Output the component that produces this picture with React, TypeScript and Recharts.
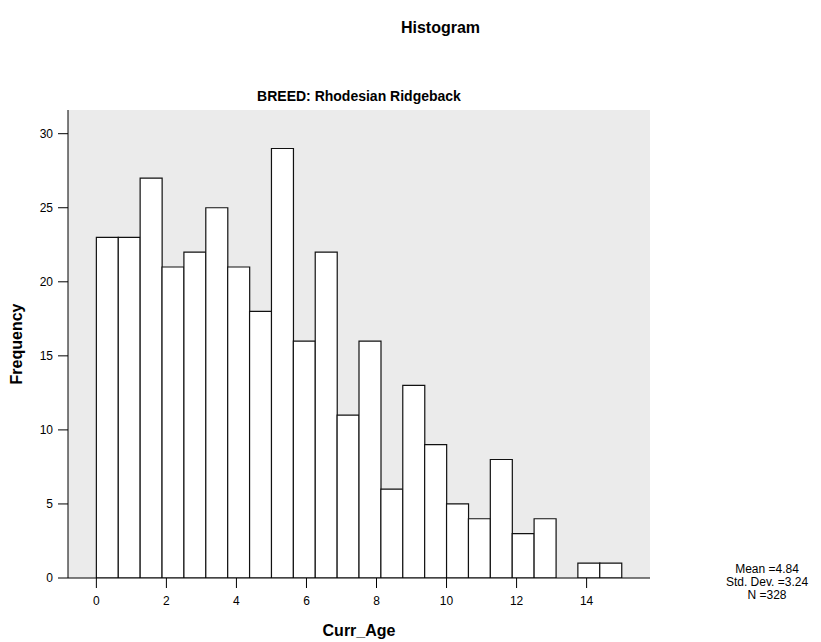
import React from 'react';
import { ComposedChart, Bar, XAxis, YAxis, CartesianGrid } from 'recharts';

// ── Data ──────────────────────────────────────────────────────────────────────

const binWidth = 0.625;
const binStarts = [
  0, 0.625, 1.25, 1.875, 2.5, 3.125, 3.75, 4.375, 5, 5.625, 6.25, 6.875,
  7.5, 8.125, 8.75, 9.375, 10, 10.625, 11.25, 11.875, 12.5, 13.125, 13.75, 14.375,
];
const frequencies = [
  23, 23, 27, 21, 22, 25, 21, 18, 29, 16, 22, 11,
  16, 6, 13, 9, 5, 4, 8, 3, 4, 0, 1, 1,
];
const xTicks = [0, 2, 4, 6, 8, 10, 12, 14];
const yTicks = [0, 5, 10, 15, 20, 25, 30];
const statsLines = ['Mean =4.84', 'Std. Dev. =3.24', 'N =328'];

const chartData = binStarts.map((start, i) => ({
  mid: start + binWidth / 2,
  count: frequencies[i],
}));

const FONT = '"Liberation Sans", Arial, Helvetica, sans-serif';

export default function App() {
  return (
    <div style={{ position: 'absolute', left: 0, top: 0, width: 821, height: 642, background: '#fff', fontFamily: FONT }}>
      <div style={{ position: 'absolute', left: 0, width: 821, top: 19, textAlign: 'center', paddingLeft: 60, boxSizing: 'border-box', fontSize: 16, fontWeight: 700, color: '#000' }}>
        Histogram
      </div>
      <div style={{ position: 'absolute', left: 68, width: 582, top: 88, textAlign: 'center', fontSize: 14, fontWeight: 700, color: '#000' }}>
        BREED: Rhodesian Ridgeback
      </div>

      <ComposedChart
        width={821}
        height={642}
        data={chartData}
        margin={{ top: 110, right: 171, bottom: 0, left: 0 }}
        barCategoryGap={0}
        barGap={0}
      >
        <CartesianGrid fill="#EBEBEB" horizontal={false} vertical={false} />
        <XAxis
          type="number"
          dataKey="mid"
          domain={[-0.81, 15.81]}
          ticks={xTicks}
          allowDataOverflow
          height={64}
          tickSize={10}
          tickMargin={8}
          axisLine={{ stroke: '#000' }}
          tickLine={{ stroke: '#000' }}
          tick={{ fontSize: 12, fill: '#000', fontFamily: FONT }}
          label={{ value: 'Curr_Age', position: 'insideBottom', offset: 6, style: { fontSize: 16, fontWeight: 700, fill: '#000', fontFamily: FONT } }}
        />
        <YAxis
          type="number"
          domain={[0, 31.6]}
          ticks={yTicks}
          allowDataOverflow
          width={68}
          tickSize={10}
          tickMargin={5}
          axisLine={{ stroke: '#000' }}
          tickLine={{ stroke: '#000' }}
          tick={{ fontSize: 12, fill: '#000', fontFamily: FONT }}
          label={{ value: 'Frequency', angle: -90, position: 'insideLeft', offset: 16, style: { fontSize: 16, fontWeight: 700, fill: '#000', fontFamily: FONT, textAnchor: 'middle' } }}
        />
        <Bar dataKey="count" fill="#fff" stroke="#111" strokeWidth={1.2} isAnimationActive={false} />
      </ComposedChart>

      <div style={{ position: 'absolute', left: 712, width: 110, top: 563, textAlign: 'center', fontSize: 12, lineHeight: '13px', color: '#000' }}>
        {statsLines.map((s) => (
          <div key={s}>{s}</div>
        ))}
      </div>
    </div>
  );
}
